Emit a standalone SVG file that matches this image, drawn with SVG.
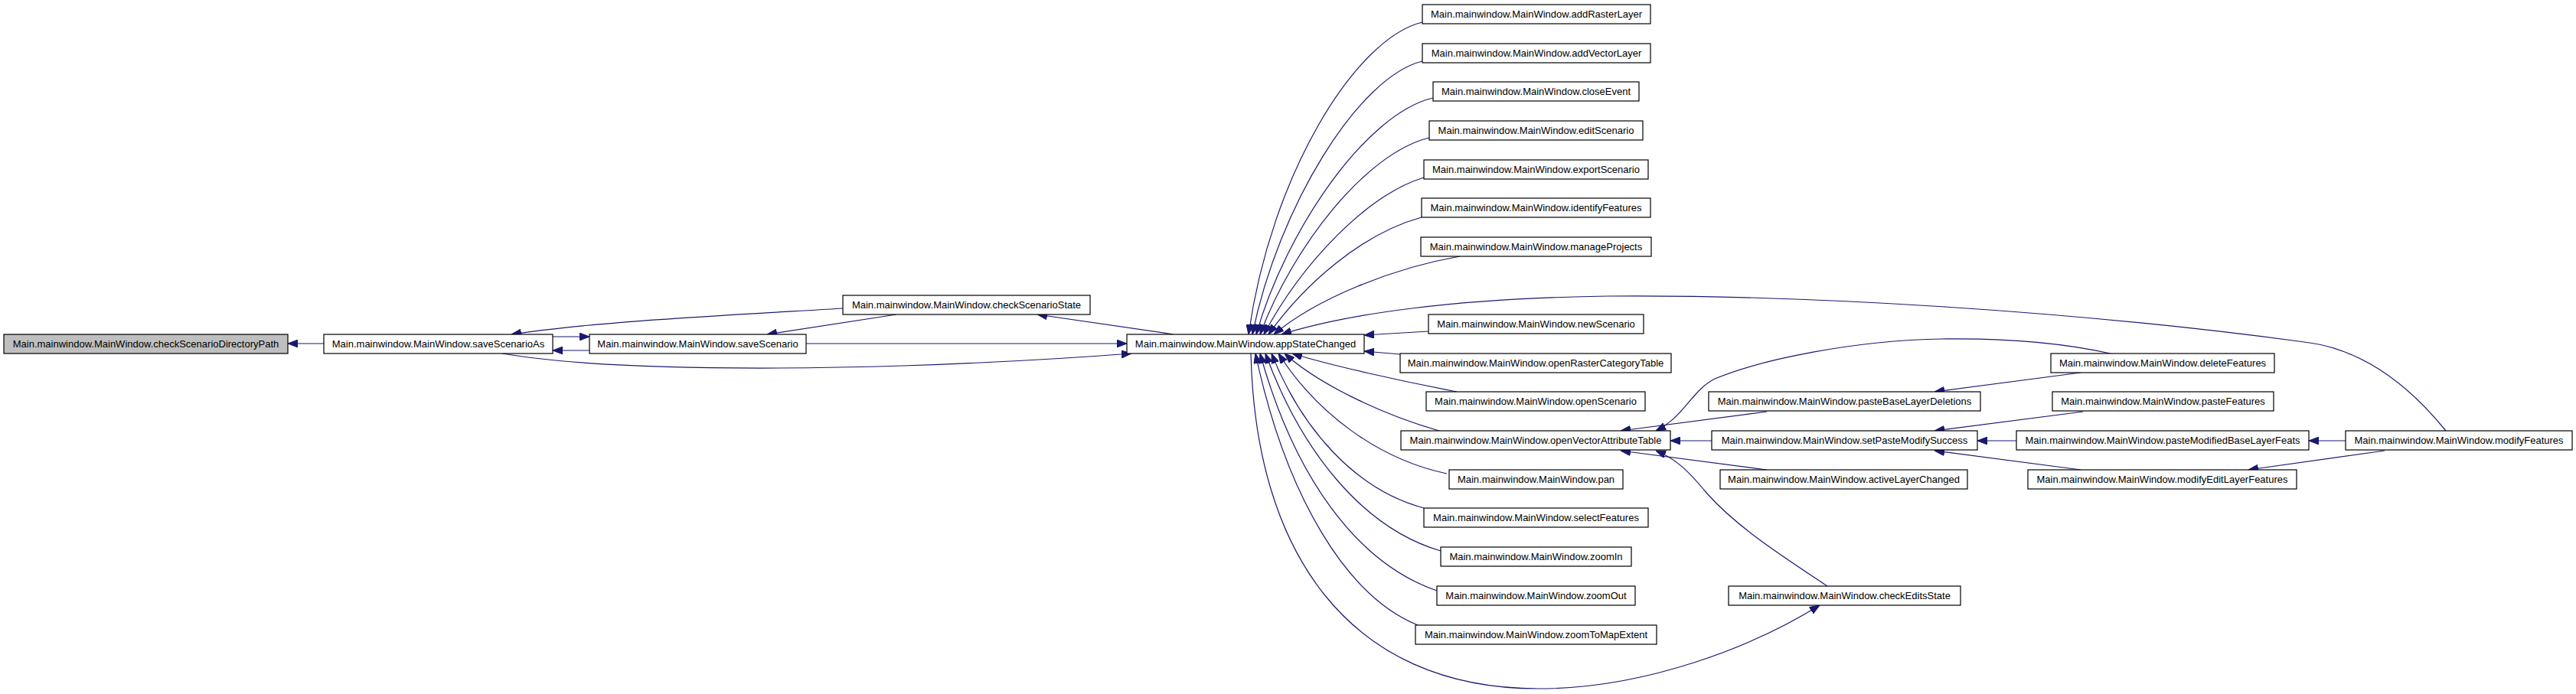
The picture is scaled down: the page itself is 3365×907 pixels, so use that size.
<svg xmlns="http://www.w3.org/2000/svg" width="3365" height="907" viewBox="0 0 3365 907">
<style>
.n rect{fill:#fff;stroke:#000;stroke-width:1.2}
.n.g rect{fill:#bfbfbf}
.n text{font-family:"Liberation Sans",Arial,sans-serif;font-size:13px;text-anchor:middle;fill:#000}
.e path{fill:none;stroke:#191970;stroke-width:1.2;marker-end:url(#a)}
</style>
<defs>
<marker id="a" viewBox="0 0 13 10" refX="13" refY="5" markerUnits="userSpaceOnUse" markerWidth="13" markerHeight="10" orient="auto">
<path d="M0,0 L13,5 L0,10 z" fill="#191970" stroke="#191970"/>
</marker>
</defs>
<rect width="3365" height="907" fill="#fff"/>
<g class="e" id="edges">
<path d="M423,449 L376,449"/>
<path d="M722,440 L770,440"/>
<path d="M770,458 L722,458"/>
<path d="M1171,411 L1002,437"/>
<path d="M1101,403 C950,412 780,420 668,437"/>
<path d="M1533,437 L1355,411"/>
<path d="M1053,449 L1472,449"/>
<path d="M656,462 C760,480 950,485 1180,478 C1300,474 1400,468 1478,462"/>
<path d="M1858,29 C1770,50 1660,230 1631,437"/>
<path d="M1858,80 C1775,100 1670,270 1636,437"/>
<path d="M1872,128 C1785,148 1680,300 1641,437"/>
<path d="M1867,180 C1785,200 1690,320 1646,437"/>
<path d="M1860,232 C1785,255 1700,345 1651,437"/>
<path d="M1857,284 C1780,305 1705,370 1657,437"/>
<path d="M1907,335 C1820,350 1720,390 1664,437"/>
<path d="M3195,563 C3140,495 3080,455 3010,447 C2700,405 2350,385 2100,387 C1900,390 1760,410 1674,437"/>
<path d="M1866,433 L1782,438"/>
<path d="M1829,463 L1782,459"/>
<path d="M1903,512 C1830,498 1740,478 1688,462"/>
<path d="M1880,563 C1800,540 1720,500 1678,462"/>
<path d="M1890,619 C1800,600 1720,540 1670,462"/>
<path d="M1860,664 C1770,640 1700,560 1661,462"/>
<path d="M1882,720 C1780,690 1700,590 1653,462"/>
<path d="M1877,772 C1770,735 1690,620 1646,462"/>
<path d="M1852,817 C1760,780 1680,650 1640,462"/>
<path d="M1634,462 C1640,720 1760,900 2010,900 C2150,900 2290,845 2377,791"/>
<path d="M2236,576 L2182,576"/>
<path d="M2308,538 L2117,563"/>
<path d="M2757,462 C2680,445 2600,442 2537,443 C2420,445 2300,470 2240,495 C2210,510 2200,545 2163,563"/>
<path d="M2308,614 L2117,589"/>
<path d="M2387,766 C2330,728 2270,690 2230,645 C2205,615 2190,600 2163,589"/>
<path d="M2718,487 L2527,512"/>
<path d="M2721,538 L2527,563"/>
<path d="M2634,576 L2583,576"/>
<path d="M2718,614 L2527,589"/>
<path d="M3064,576 L3016,576"/>
<path d="M3115,589 L2937,614"/>
</g>
<g class="n g" id="checkScenarioDirectoryPath"><rect x="5" y="437" width="371" height="25"/><text x="190.5" y="454">Main.mainwindow.MainWindow.checkScenarioDirectoryPath</text></g>
<g class="n" id="saveScenarioAs"><rect x="423" y="437" width="299" height="25"/><text x="572.5" y="454">Main.mainwindow.MainWindow.saveScenarioAs</text></g>
<g class="n" id="saveScenario"><rect x="770" y="437" width="283" height="25"/><text x="911.5" y="454">Main.mainwindow.MainWindow.saveScenario</text></g>
<g class="n" id="checkScenarioState"><rect x="1101" y="386" width="323" height="25"/><text x="1262.5" y="403">Main.mainwindow.MainWindow.checkScenarioState</text></g>
<g class="n" id="appStateChanged"><rect x="1472" y="437" width="310" height="25"/><text x="1627" y="454">Main.mainwindow.MainWindow.appStateChanged</text></g>
<g class="n" id="addRasterLayer"><rect x="1858" y="6" width="298" height="25"/><text x="2007" y="23">Main.mainwindow.MainWindow.addRasterLayer</text></g>
<g class="n" id="addVectorLayer"><rect x="1858" y="57" width="298" height="25"/><text x="2007" y="74">Main.mainwindow.MainWindow.addVectorLayer</text></g>
<g class="n" id="closeEvent"><rect x="1872" y="107" width="269" height="25"/><text x="2006.5" y="124">Main.mainwindow.MainWindow.closeEvent</text></g>
<g class="n" id="editScenario"><rect x="1867" y="158" width="279" height="25"/><text x="2006.5" y="175">Main.mainwindow.MainWindow.editScenario</text></g>
<g class="n" id="exportScenario"><rect x="1860" y="209" width="293" height="25"/><text x="2006.5" y="226">Main.mainwindow.MainWindow.exportScenario</text></g>
<g class="n" id="identifyFeatures"><rect x="1857" y="259" width="299" height="25"/><text x="2006.5" y="276">Main.mainwindow.MainWindow.identifyFeatures</text></g>
<g class="n" id="manageProjects"><rect x="1856" y="310" width="301" height="25"/><text x="2006.5" y="327">Main.mainwindow.MainWindow.manageProjects</text></g>
<g class="n" id="newScenario"><rect x="1866" y="411" width="281" height="25"/><text x="2006.5" y="428">Main.mainwindow.MainWindow.newScenario</text></g>
<g class="n" id="openRasterCategoryTable"><rect x="1829" y="462" width="354" height="25"/><text x="2006" y="479">Main.mainwindow.MainWindow.openRasterCategoryTable</text></g>
<g class="n" id="openScenario"><rect x="1863" y="512" width="286" height="25"/><text x="2006" y="529">Main.mainwindow.MainWindow.openScenario</text></g>
<g class="n" id="openVectorAttributeTable"><rect x="1830" y="563" width="352" height="25"/><text x="2006" y="580">Main.mainwindow.MainWindow.openVectorAttributeTable</text></g>
<g class="n" id="pan"><rect x="1893" y="614" width="227" height="25"/><text x="2006.5" y="631">Main.mainwindow.MainWindow.pan</text></g>
<g class="n" id="selectFeatures"><rect x="1860" y="664" width="293" height="25"/><text x="2006.5" y="681">Main.mainwindow.MainWindow.selectFeatures</text></g>
<g class="n" id="zoomIn"><rect x="1882" y="715" width="249" height="25"/><text x="2006.5" y="732">Main.mainwindow.MainWindow.zoomIn</text></g>
<g class="n" id="zoomOut"><rect x="1877" y="766" width="259" height="25"/><text x="2006.5" y="783">Main.mainwindow.MainWindow.zoomOut</text></g>
<g class="n" id="zoomToMapExtent"><rect x="1849" y="817" width="315" height="25"/><text x="2006.5" y="834">Main.mainwindow.MainWindow.zoomToMapExtent</text></g>
<g class="n" id="deleteFeatures"><rect x="2679" y="462" width="292" height="25"/><text x="2825" y="479">Main.mainwindow.MainWindow.deleteFeatures</text></g>
<g class="n" id="pasteBaseLayerDeletions"><rect x="2232" y="512" width="355" height="25"/><text x="2409.5" y="529">Main.mainwindow.MainWindow.pasteBaseLayerDeletions</text></g>
<g class="n" id="pasteFeatures"><rect x="2681" y="512" width="289" height="25"/><text x="2825.5" y="529">Main.mainwindow.MainWindow.pasteFeatures</text></g>
<g class="n" id="setPasteModifySuccess"><rect x="2236" y="563" width="347" height="25"/><text x="2409.5" y="580">Main.mainwindow.MainWindow.setPasteModifySuccess</text></g>
<g class="n" id="activeLayerChanged"><rect x="2247" y="614" width="323" height="25"/><text x="2408.5" y="631">Main.mainwindow.MainWindow.activeLayerChanged</text></g>
<g class="n" id="pasteModifiedBaseLayerFeats"><rect x="2634" y="563" width="382" height="25"/><text x="2825" y="580">Main.mainwindow.MainWindow.pasteModifiedBaseLayerFeats</text></g>
<g class="n" id="modifyEditLayerFeatures"><rect x="2649" y="614" width="351" height="25"/><text x="2824.5" y="631">Main.mainwindow.MainWindow.modifyEditLayerFeatures</text></g>
<g class="n" id="modifyFeatures"><rect x="3064" y="563" width="296" height="25"/><text x="3212" y="580">Main.mainwindow.MainWindow.modifyFeatures</text></g>
<g class="n" id="checkEditsState"><rect x="2258" y="766" width="303" height="25"/><text x="2409.5" y="783">Main.mainwindow.MainWindow.checkEditsState</text></g>
</svg>
